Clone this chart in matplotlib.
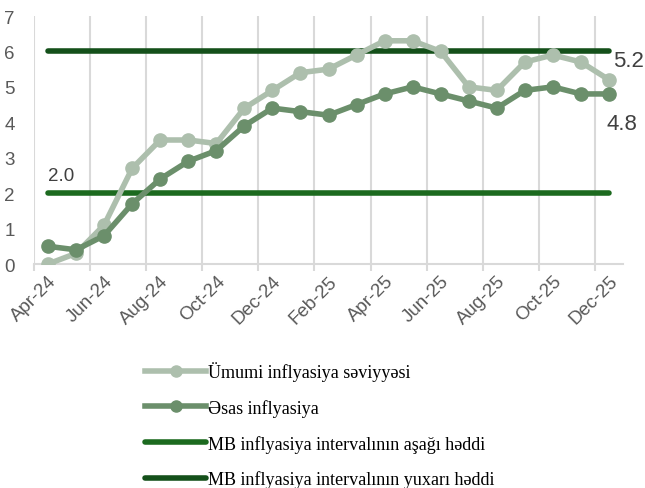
import numpy as np
import matplotlib.pyplot as plt
from matplotlib.lines import Line2D

months = ['Apr-24', 'May-24', 'Jun-24', 'Jul-24', 'Aug-24', 'Sep-24', 'Oct-24',
          'Nov-24', 'Dec-24', 'Jan-25', 'Feb-25', 'Mar-25', 'Apr-25', 'May-25',
          'Jun-25', 'Jul-25', 'Aug-25', 'Sep-25', 'Oct-25', 'Nov-25', 'Dec-25']
umumi = [0.0, 0.3, 1.1, 2.7, 3.5, 3.5, 3.4, 4.4, 4.9, 5.4, 5.5, 5.9, 6.3, 6.3,
         6.0, 5.0, 4.9, 5.7, 5.9, 5.7, 5.2]
esas = [0.5, 0.4, 0.8, 1.7, 2.4, 2.9, 3.2, 3.9, 4.4, 4.3, 4.2, 4.5, 4.8, 5.0,
        4.8, 4.6, 4.4, 4.9, 5.0, 4.8, 4.8]
lower = [2.0] * len(months)
upper = [6.0] * len(months)

labels = ['Ümumi inflyasiya səviyyəsi', 'Əsas inflyasiya',
          'MB inflyasiya intervalının aşağı həddi',
          'MB inflyasiya intervalının yuxarı həddi']

c_light = '#adbfad'
c_mid = '#6b8f6b'
c_low = '#1c6a1f'
c_up = '#14501a'

plt.rcParams['font.family'] = ['Liberation Sans', 'DejaVu Sans']

fig = plt.figure(figsize=(6.45, 4.89), dpi=100)
ax = fig.add_axes([34 / 645, 1 - 265 / 489, (623 - 34) / 645, (265 - 17) / 489])

x = np.arange(len(months))
ax.plot(x, lower, color=c_low, lw=4, solid_capstyle='round', zorder=2)
ax.plot(x, upper, color=c_up, lw=4, solid_capstyle='round', zorder=2)
ax.plot(x, umumi, color=c_light, lw=4, marker='o', ms=9.5, zorder=3)
ax.plot(x, esas, color=c_mid, lw=4, marker='o', ms=9.5, zorder=4)

ax.set_xlim(-0.5, len(months) - 0.5)
ax.set_ylim(0, 7)
ax.set_yticks(range(8))
ax.set_xticks(x[::2])
ax.set_xticklabels(months[::2], rotation=45, ha='right', rotation_mode='anchor')
ax.set_xticks(np.arange(-0.5, len(months) - 1, 2), minor=True)
ax.tick_params(axis='x', which='major', length=0, labelsize=13.5, colors='#595959', pad=6)
ax.tick_params(axis='x', which='minor', length=5, color='#d9d9d9', width=1.5)
ax.tick_params(axis='y', length=0, labelsize=13.5, colors='#595959', pad=14)
ax.grid(axis='x', which='minor', color='#d9d9d9', lw=1.5)
for s in ['top', 'right', 'left']:
    ax.spines[s].set_visible(False)
ax.spines['bottom'].set_color('#d9d9d9')
ax.spines['bottom'].set_linewidth(1.5)

ax.text(0, lower[0] + 0.25, '%.1f' % lower[0], fontsize=13.5, color='#404040', ha='left', va='bottom')
ax.text(x[-1] + 0.15, umumi[-1] + 0.4, '%.1f' % umumi[-1], fontsize=16, color='#404040', ha='left', va='baseline')
ax.text(x[-1] + 0.45, esas[-1] - 1.0, '%.1f' % esas[-1], fontsize=16, color='#404040', ha='center', va='baseline')

handles = [
    Line2D([], [], color=c_light, lw=4, marker='o', ms=8),
    Line2D([], [], color=c_mid, lw=4, marker='o', ms=8),
    Line2D([], [], color=c_low, lw=4, solid_capstyle='round'),
    Line2D([], [], color=c_up, lw=4, solid_capstyle='round'),
]
fig.legend(handles, labels, loc='upper left', bbox_to_anchor=(138 / 645, 1 - 355 / 489),
           frameon=False, prop={'family': 'Liberation Serif', 'size': 13.1},
           handlelength=3.35, handletextpad=0.1, labelspacing=0.98, borderaxespad=0)

fig.savefig('out.png', dpi=100)
